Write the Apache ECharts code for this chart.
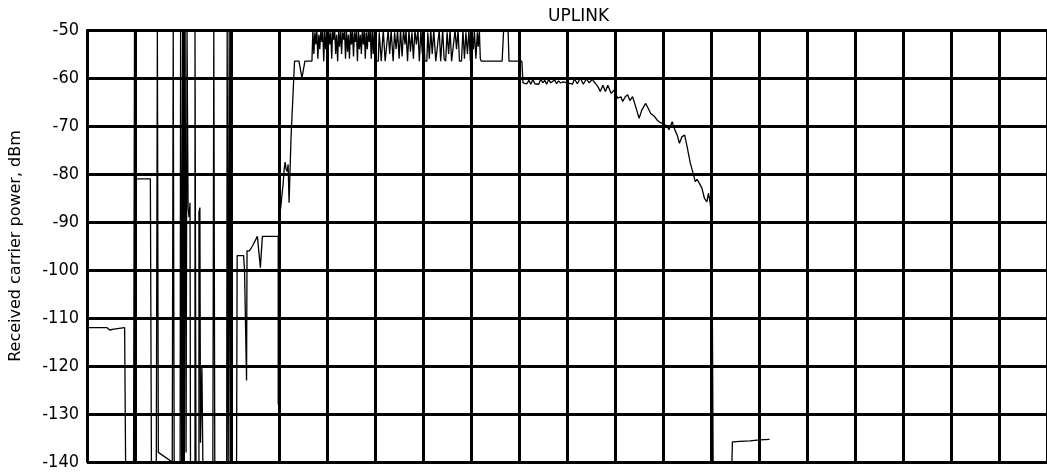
<!DOCTYPE html>
<html>
<head>
<meta charset="utf-8">
<title>UPLINK</title>
<script src="https://cdn.jsdelivr.net/npm/echarts@6/dist/echarts.min.js"></script>
<style>
  html, body { margin: 0; padding: 0; background: #fff; }
  #chart { width: 1047px; height: 473px; }
</style>
</head>
<body>
<div id="chart"></div>
<script>
// Uplink received carrier power record. Time in seconds (grid every 50 s), power in dBm.
const yTicks = [-140, -130, -120, -110, -100, -90, -80, -70, -60, -50];

// Acquisition bursts: intermittent lock, rapid swings between floor and saturation
const burstTime = [
  1.0, 20.6, 23.7, 27.9, 39.2, 40.2, 48.5, 49.5, 50.6, 66.0, 67.1, 72.2, 73.3, 74.3,
  88.8, 89.8, 90.8, 97.0, 97.5, 98.6, 99.6, 101.1, 102.2, 103.2, 104.2, 105.3, 106.3,
  107.3, 107.8, 112.5, 112.5, 113.5, 116.6, 116.6, 117.6, 118.2, 119.7, 120.7,
  131.1, 132.1, 133.1, 145.5, 146.0, 147.1, 148.1, 149.1, 150.2, 151.2,
  155.8, 156.4, 163.1, 164.1, 165.1, 166.2, 166.7, 169.2, 172.3, 177.5, 180.6, 182.7,
  199.2, 199.2, 200.2, 202.3, 204.3, 205.4, 206.4, 207.4, 208.5, 209.5, 210.5, 212.6,
  214.7, 216.2, 220.8, 223.9, 227.0, 234.3
];
const burstPower = [
  -112, -112, -112.5, -112.3, -112, -140, -140, -50, -81, -81, -140, -140, -50, -138,
  -140, -50, -140, -140, -50, -140, -50, -140, -50, -138, -50, -87, -89,
  -86, -140, -140, -50, -140, -140, -88, -87, -136, -120, -140,
  -140, -50, -140, -140, -50, -140, -50, -140, -50, -140,
  -140, -97, -97, -100, -100, -123, -96, -96, -95, -93, -99.5, -93,
  -93, -128, -90, -86, -82, -79, -77.5, -79, -79.5, -78, -86, -72,
  -63, -56.5, -56.5, -60, -56.5, -56.5
];

// Strong-signal period, first part: receiver pinned at the top of the scale, dense chatter
const strongTimeA = [
  235.3, 236.3, 237.4, 238.4, 239.4, 240.5, 241.5, 242.5, 243.6, 244.6, 245.6, 246.6,
  247.7, 248.7, 249.7, 250.8, 251.8, 252.8, 253.9, 254.9, 255.9, 256.9, 258.0, 259.0,
  260.0, 261.1, 262.1, 263.1, 264.2, 265.2, 266.2, 267.2, 268.3, 269.3, 270.3, 271.4,
  272.4, 273.4, 274.5, 275.5, 276.5, 277.6, 278.6, 279.6, 280.6, 281.7, 282.7, 283.7,
  284.8, 285.8, 286.8, 287.9, 288.9, 289.9, 290.9, 292.0, 293.0, 294.0, 295.1, 296.1,
  297.1, 298.2, 299.2
];
const strongPowerA = [
  -50, -55, -50.5, -53, -50, -56, -51, -54, -50, -52.5, -50, -56.5,
  -50, -54, -51, -55.5, -50, -53, -50.5, -56, -50, -52, -50, -55,
  -51, -56.5, -50, -53.5, -50, -55, -50.5, -52, -50, -56, -50, -54.5,
  -51, -56, -50, -53, -50, -55.5, -50.5, -52.5, -50, -56.5, -50, -54,
  -51, -55, -50, -53, -50, -56, -50.5, -54, -50, -52.5, -50, -56,
  -50, -55, -50
];

// Strong-signal period, second part: deeper, slower dips to about -56 dBm
const strongTimeB = [
  301.3, 303.4, 304.4, 306.5, 308.6, 310.6, 312.2, 313.7, 315.3,
  316.8, 318.9, 320.4, 322.0, 323.5, 325.1, 326.6, 328.2, 329.7, 331.3, 332.3, 333.9,
  335.4, 336.9, 338.5, 340.0, 341.6, 343.1, 344.7, 346.2, 347.8, 349.3, 350.9, 351.9,
  354.0, 355.0, 356.6, 358.1, 359.6, 361.2, 363.3, 365.3, 366.9, 368.4, 370.5, 372.0,
  373.6, 375.1, 376.7, 378.2, 379.8, 381.8, 383.4, 384.9, 386.5, 388.0, 390.1, 391.6,
  393.2, 394.7, 396.3, 397.8, 399.4, 400.9, 402.5, 403.5, 405.1, 406.6, 407.6, 408.7,
  409.7, 410.7, 432.4, 434.0, 438.6, 439.6, 446.9
];
const strongPowerB = [
  -56.5, -56.5, -50.5, -56.5, -50, -56.5, -56.5, -50, -55,
  -50, -56.5, -50.5, -54, -50, -56, -50, -55.5, -50, -53, -50, -56.5,
  -50, -54.5, -50.5, -56, -50, -53, -50, -56.5, -50, -55, -50, -56.5,
  -56.5, -50.5, -56, -50, -55, -50, -56.5, -56.5, -50, -56.5, -50, -56,
  -56.5, -50.5, -55, -50, -56.5, -56.5, -50, -54, -50, -56.5, -56.5, -50,
  -56, -50.5, -55, -50, -56.5, -50, -54, -50, -56, -50.5, -53.5, -50,
  -56, -56.5, -56.5, -50, -50, -56.5, -56.5
];

// Slow fade as the range opens, ending in loss of signal
const fadeTime = [
  453.0, 454.1, 455.1, 458.2, 460.3, 462.3, 464.4, 466.5, 468.5, 470.6, 472.7, 474.7,
  476.8, 478.8, 480.9, 483.0, 485.0, 487.1, 489.2, 491.2, 493.3, 496.4, 505.7, 507.7,
  510.8, 513.9, 517.0, 520.1, 523.2, 526.3, 527.0, 532.2, 534.6, 537.4, 540.0, 542.5,
  545.9, 549.3, 552.8, 556.2, 558.0, 560.7, 563.2, 565.5, 568.3, 571.0, 575.1, 577.9,
  582.0, 584.8, 587.2, 590.6, 594.1, 596.5, 604.4, 606.1, 609.6, 612.3, 614.8, 617.1,
  619.9, 622.6, 625.1, 628.5, 630.9, 633.6, 635.4, 637.8, 640.6, 643.2, 645.7, 647.4,
  649.1, 650.9, 652.2
];
const fadePower = [
  -56.5, -61, -61, -61.2, -60.5, -61.3, -60.3, -61.2, -60.8, -61.3, -60.2, -61.0,
  -60.5, -61.3, -60.3, -61, -61.2, -60.4, -61.2, -60.6, -61, -60.8, -61.3, -60.2,
  -61.2, -60, -61.3, -60.2, -61, -60.3, -60.1, -61.8, -62.8, -61.5, -62.8, -61.5,
  -63.2, -62.5, -64.2, -63.9, -64.9, -63.9, -63.5, -64.7, -63.9, -65.6, -68.4, -66.7,
  -65.3, -66.4, -67.4, -67.9, -68.8, -69.2, -70, -70.8, -69.1, -70.8, -71.9, -73.6,
  -72.2, -71.9, -74.3, -77.8, -79.5, -81.6, -81.1, -81.9, -83, -85.1, -85.8, -84,
  -86, -88.9, -140
];

// Weak residual carrier after loss of lock
const tailTime = [671.8, 672.3, 680.1, 690.4, 700.7, 711.0];
const tailPower = [-140, -135.8, -135.7, -135.6, -135.4, -135.3];

const zip = (t, p) => t.map((v, i) => [v, p[i]]);
const trace = [].concat(
  zip(burstTime, burstPower),
  zip(strongTimeA, strongPowerA),
  zip(strongTimeB, strongPowerB),
  zip(fadeTime, fadePower),
  zip(tailTime, tailPower)
);

const chart = echarts.init(document.getElementById('chart'), null, { renderer: 'canvas' });
chart.setOption({
  animation: false,
  backgroundColor: '#ffffff',
  title: {
    text: 'UPLINK',
    left: 543,
    top: 3,
    textStyle: { fontFamily: 'DejaVu Sans', fontSize: 17, fontWeight: 'normal', color: '#000' }
  },
  grid: { left: 86, top: 30, width: 969.2, height: 432, containLabel: false },
  xAxis: {
    type: 'value',
    min: 0,
    max: 1000,
    interval: 50,
    axisLine: { show: false },
    axisTick: { show: false },
    axisLabel: { show: false },
    splitLine: { show: true, lineStyle: { color: '#000', width: 3 } }
  },
  yAxis: {
    type: 'value',
    min: yTicks[0],
    max: yTicks[yTicks.length - 1],
    interval: 10,
    name: 'Received carrier power, dBm',
    nameLocation: 'middle',
    nameGap: 63,
    nameTextStyle: { fontFamily: 'DejaVu Sans', fontSize: 16, color: '#000' },
    axisLine: { show: true, lineStyle: { color: '#000', width: 2 } },
    axisTick: { show: false },
    axisLabel: {
      margin: 8,
      fontFamily: 'DejaVu Sans Condensed',
      fontSize: 18,
      color: '#000'
    },
    splitLine: { show: true, lineStyle: { color: '#000', width: 3 } }
  },
  series: [{
    type: 'line',
    data: trace,
    showSymbol: false,
    clip: true,
    lineStyle: { color: '#000', width: 1.3 }
  }]
});
</script>
</body>
</html>
